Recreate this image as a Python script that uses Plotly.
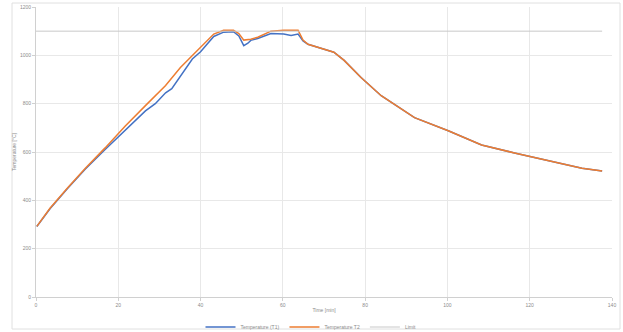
import plotly.graph_objects as go

# Time axis (min) and temperatures
time_a = [0.2, 3.4, 7.6, 12.0, 16.8, 21.7, 26.6, 29.0, 31.5, 33.0, 35.1, 38.0, 40.0,
          43.2, 45.6, 48.0, 49.3, 50.5, 51.5, 52.2, 53.9, 57.1, 60.2, 62.0, 63.7,
          64.1, 64.9, 66.1, 70.0, 72.4, 74.9, 79.0, 83.9, 92.0, 100.2, 108.3,
          116.3, 124.6, 132.7, 137.6]
temp_a = [292, 365, 448, 530, 610, 690, 770, 800, 845, 862, 915, 985, 1015,
          1078, 1096, 1098, 1080, 1040, 1050, 1062, 1070, 1090, 1088, 1082, 1088,
          1080, 1060, 1046, 1025, 1013, 979, 908, 833, 742, 688, 629,
          596, 563, 533, 521]

time_b = [0.2, 3.4, 7.6, 12.0, 16.8, 21.7, 26.6, 31.5, 35.1, 40.0, 43.2, 45.6,
          48.0, 49.3, 50.5, 52.2, 53.9, 57.1, 60.2, 63.7, 64.1, 64.9, 66.1, 70.0,
          72.4, 74.9, 79.0, 83.9, 92.0, 100.2, 108.3, 116.3, 124.6, 132.7, 137.6]
temp_b = [292, 367, 450, 533, 617, 708, 792, 875, 950, 1033, 1088, 1104,
          1104, 1090, 1063, 1067, 1075, 1100, 1104, 1104, 1092, 1063, 1046, 1025,
          1013, 979, 908, 833, 742, 688, 629, 596, 563, 533, 521]

time_limit = [0, 137.6]
temp_limit = [1100, 1100]

names = ["Temperature (T1)", "Temperature T2", "Limit"]
x_ticks = [0, 20, 40, 60, 80, 100, 120, 140]
y_ticks = [0, 200, 400, 600, 800, 1000, 1200]

fig = go.Figure()
fig.add_trace(go.Scatter(x=time_a, y=temp_a, mode="lines", name=names[0],
                         line=dict(color="#4472C4", width=1.5)))
fig.add_trace(go.Scatter(x=time_b, y=temp_b, mode="lines", name=names[1],
                         line=dict(color="#ED7D31", width=1.5)))
fig.add_trace(go.Scatter(x=time_limit, y=temp_limit, mode="lines", name=names[2],
                         line=dict(color="#C8C8C8", width=1)))

L, R, T, B = 36, 11, 7, 35
W, H = 623, 332
pw, ph = W - L - R, H - T - B

fig.update_layout(
    width=W, height=H,
    margin=dict(l=L, r=R, t=T, b=B, autoexpand=False),
    paper_bgcolor="white", plot_bgcolor="white",
    font=dict(family="Liberation Sans, Arial", size=5, color="#8c8c8c"),
    showlegend=True,
    legend=dict(orientation="h", x=(311 - L) / pw, xanchor="center", xref="paper",
                yref="container", y=1 - 327 / 332, yanchor="middle",
                font=dict(size=5, color="#8c8c8c"),
                tracegroupgap=0, bgcolor="rgba(0,0,0,0)"),
    xaxis=dict(range=[0, 140], tickvals=x_ticks, showgrid=True, gridcolor="#e8e8e8",
               gridwidth=1, showline=True, linecolor="#d0d0d0", ticks="outside",
               ticklen=3, tickcolor="#d0d0d0", zeroline=False, automargin=False,
               title=dict(text="Time [min]", font=dict(size=5, color="#8c8c8c"), standoff=4)),
    yaxis=dict(range=[0, 1200], tickvals=y_ticks, showgrid=True, gridcolor="#e8e8e8",
               gridwidth=1, showline=True, linecolor="#d0d0d0", ticks="outside",
               ticklen=3, tickcolor="#d0d0d0", zeroline=False, automargin=False,
               title=dict(text="Temperature [°C]", font=dict(size=5, color="#8c8c8c"), standoff=3)),
)

# light outer frame
fig.add_shape(type="rect", xref="paper", yref="paper",
              x0=(12 - L) / pw, x1=(620 - L) / pw,
              y0=-(329 - (H - B)) / ph, y1=1 + (T - 3) / ph,
              line=dict(color="#e0e0e0", width=1), fillcolor="rgba(0,0,0,0)", layer="below")

fig.write_html("out.html", config={"displayModeBar": False},
               post_script="document.body.style.margin='0';document.body.style.overflow='hidden';")
